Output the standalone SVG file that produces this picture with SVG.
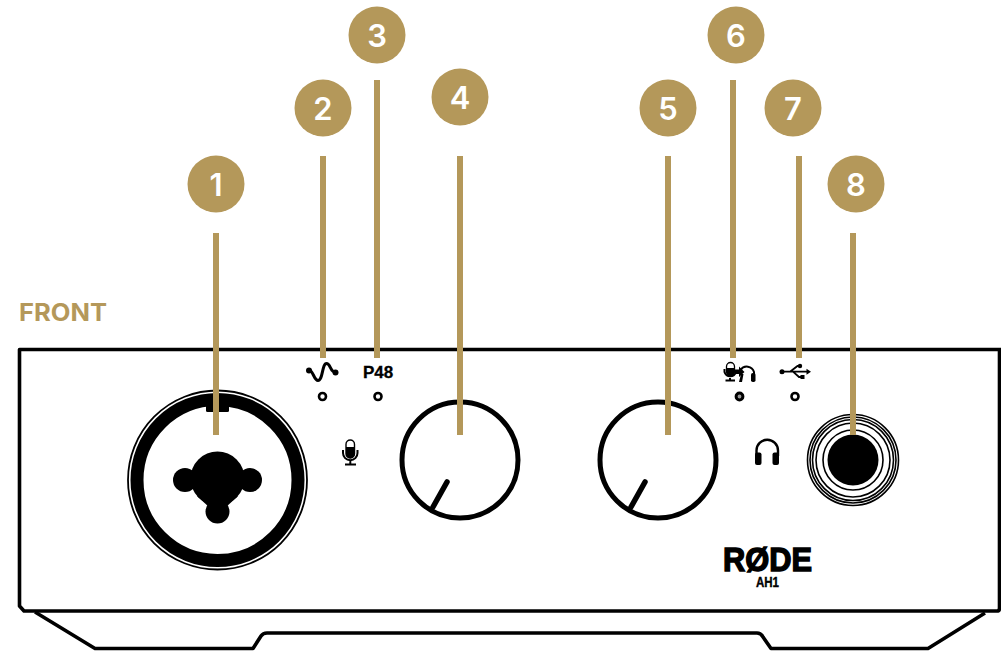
<svg xmlns="http://www.w3.org/2000/svg" width="1001" height="651" viewBox="0 0 1001 651">
<style>
.badge{fill:#b4985a}
.num{font-family:Inter,"Liberation Sans",Arial,sans-serif;font-weight:600;font-size:31px;fill:#fff;text-anchor:middle}
.leader{stroke:#b4985a;stroke-width:6;fill:none}
.body{fill:none;stroke:#000;stroke-width:3.6;stroke-linejoin:round}
.led{fill:#fff;stroke:#000;stroke-width:2.6}
.knob{fill:#fff;stroke:#000;stroke-width:5}
.pointer{stroke:#000;stroke-width:5.5;stroke-linecap:round}
.ring{fill:none;stroke:#000;stroke-width:1.600}
.ic{fill:none;stroke:#000;stroke-width:2}
.label{font-family:"Liberation Sans",Arial,sans-serif;font-weight:700;fill:#000}
</style>
<rect width="1001" height="651" fill="#fff"/>
<g id="chassis">
<path class="body" d="M1001 349.500H19.500V606L24 611H997Q999.500 611 999.500 608V349.500"/>
<path class="body" d="M35 612L95 648.500H253L261 636Q263 633 267 633H757Q761 633 763 637L771 648.500H928L985 613"/>
</g>
<text id="front-label" x="19" y="321" font-family="Inter,'Liberation Sans',Arial,sans-serif" font-weight="700" font-size="24" fill="#b4985a" textLength="88" lengthAdjust="spacingAndGlyphs">FRONT</text>
<g id="xlr-input">
<circle cx="217.500" cy="480" r="89.500" fill="#fff" stroke="#000" stroke-width="1.800"/>
<circle cx="217.500" cy="480" r="80.500" fill="#fff" stroke="#000" stroke-width="13"/>
<rect x="206" y="400" width="23" height="12" rx="1.500" fill="#000"/>
<circle cx="217.500" cy="478.500" r="27"/>
<path d="M197 496L210 508H225L238 496Z"/>
<circle cx="185" cy="480" r="12"/>
<circle cx="250" cy="480" r="12"/>
<circle cx="217.500" cy="511.500" r="12"/>
</g>
<g id="pad-indicator">
<path d="M309 370C313 370 314 380.500 318 380.500C323 380.500 322 363.500 326.500 363.500C331 363.500 330 373 336 372" fill="none" stroke="#000" stroke-width="3" stroke-linecap="round"/>
<circle cx="309" cy="370.500" r="3"/><circle cx="335.500" cy="372.500" r="3"/>
<circle class="led" cx="322.500" cy="396.500" r="3.500"/>
</g>
<g id="phantom-indicator">
<text class="label" x="378" y="378" font-size="17" text-anchor="middle" stroke="#000" stroke-width=".3">P48</text>
<circle class="led" cx="378" cy="396.500" r="3.500"/>
</g>
<g id="mic-icon">
<rect x="346" y="440" width="8.500" height="18" rx="4.250" fill="#fff" stroke="#000" stroke-width="1.400"/>
<path d="M346 447H354.500V454A4.250 4.250 0 0 1 346 454Z"/>
<path class="ic" d="M343 450V453A7.200 7.200 0 0 0 357.500 453V450M350.300 461V464M345 464.500H356"/>
</g>
<g id="gain-knob">
<circle class="knob" cx="460" cy="460" r="58"/>
<line class="pointer" x1="447" y1="482" x2="433" y2="507"/>
</g>
<g id="headphone-knob">
<circle class="knob" cx="658" cy="460" r="58"/>
<line class="pointer" x1="645" y1="482" x2="631" y2="507"/>
</g>
<g id="monitor-indicator">
<rect x="726.500" y="362.500" width="8" height="13" rx="4" fill="#fff" stroke="#000" stroke-width="1.300"/>
<path d="M726.500 368H734.500V372A4 4 0 0 1 726.500 372Z"/>
<path class="ic" d="M724.500 369V372A6 6 0 0 0 736 372M730 378V381M725.500 380.500H735" stroke-width="1.600"/>
<path d="M735 369.500H739V366.500L744.500 372L739 377V374H735Z"/>
<path class="ic" d="M740.500 370A7.500 7.500 0 0 1 754 372V376"/>
<path d="M739 382L741 374H743.500L742 382Z"/>
<rect x="751" y="373" width="4.500" height="9" rx="1.800"/>
<circle cx="739.500" cy="396.500" r="3.400" fill="#999" stroke="#000" stroke-width="3"/>
</g>
<g id="usb-indicator">
<path d="M782 371.700H808M790 371.700L797.500 366H800M793 371.700L799 377H802" fill="none" stroke="#000" stroke-width="1.800"/>
<circle cx="782" cy="371.700" r="2.500"/>
<path d="M806.500 368.700L811 371.700L806.500 374.700Z"/>
<circle cx="800" cy="366" r="2.200"/>
<rect x="800.500" y="375" width="4" height="4"/>
<circle class="led" cx="795" cy="396.500" r="3.500"/>
</g>
<g id="headphone-icon">
<path d="M756.500 456V450.500A10.700 10.700 0 0 1 778 450.500V456" fill="none" stroke="#000" stroke-width="2.400"/>
<rect x="755" y="452.500" width="6.500" height="12.500" rx="2"/>
<rect x="772.500" y="452.500" width="6.500" height="12.500" rx="2"/>
</g>
<g id="headphone-jack">
<circle class="ring" cx="853" cy="460" r="45.500"/>
<circle class="ring" cx="853" cy="460" r="43"/>
<circle class="ring" cx="853" cy="460" r="40.500"/>
<circle class="ring" cx="853" cy="460" r="37"/>
<circle class="ring" cx="853" cy="460" r="30"/>
<circle cx="853" cy="460" r="25.500"/>
</g>
<g id="logo">
<text class="label" x="723" y="571" font-size="33" textLength="89" lengthAdjust="spacingAndGlyphs" stroke="#000" stroke-width="1.400">RØDE</text>
<text class="label" x="767.500" y="587" font-size="14" text-anchor="middle" font-weight="400" stroke="#000" stroke-width=".4" textLength="23" lengthAdjust="spacingAndGlyphs">AH1</text>
</g>
<g id="connectors">
<line class="leader" x1="216" y1="233" x2="216" y2="435"/>
<line class="leader" x1="323" y1="156" x2="323" y2="358"/>
<line class="leader" x1="377" y1="80" x2="377" y2="358"/>
<line class="leader" x1="460" y1="156" x2="460" y2="435"/>
<line class="leader" x1="668" y1="156" x2="668" y2="435"/>
<line class="leader" x1="733" y1="80" x2="733" y2="358"/>
<line class="leader" x1="799" y1="156" x2="799" y2="358"/>
<line class="leader" x1="853" y1="233" x2="853" y2="435"/>
</g>
<g id="badge-1"><circle class="badge" cx="216" cy="184" r="28.500"/><text class="num" x="216" y="196">1</text></g>
<g id="badge-2"><circle class="badge" cx="323" cy="108" r="28.500"/><text class="num" x="323" y="120">2</text></g>
<g id="badge-3"><circle class="badge" cx="377" cy="35" r="28.500"/><text class="num" x="377" y="47">3</text></g>
<g id="badge-4"><circle class="badge" cx="460" cy="97" r="28.500"/><text class="num" x="460" y="109">4</text></g>
<g id="badge-5"><circle class="badge" cx="668" cy="108" r="28.500"/><text class="num" x="668" y="120">5</text></g>
<g id="badge-6"><circle class="badge" cx="736" cy="35" r="28.500"/><text class="num" x="736" y="47">6</text></g>
<g id="badge-7"><circle class="badge" cx="793" cy="108" r="28.500"/><text class="num" x="793" y="120">7</text></g>
<g id="badge-8"><circle class="badge" cx="856" cy="184" r="28.500"/><text class="num" x="856" y="196">8</text></g>
</svg>
